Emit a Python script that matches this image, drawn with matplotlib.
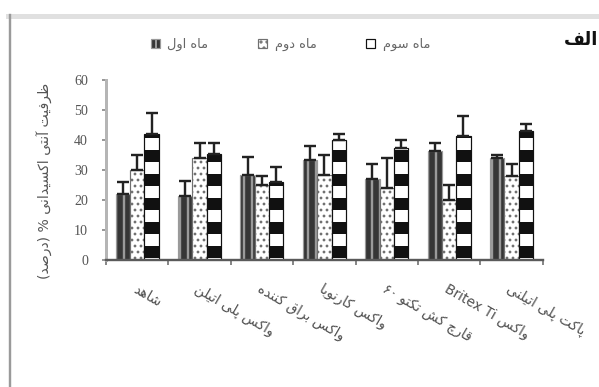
import re

import matplotlib

matplotlib.use("Agg")
import matplotlib.pyplot as plt
import numpy as np
from matplotlib.lines import Line2D

# ---- data ------------------------------------------------------------------
treatments = [
    "شاهد",
    "واکس پلی اتیلن",
    "واکس براق کننده",
    "واکس کارنوبا",
    "قارچ کش تکتو ۶۰",
    "واکس Britex Ti",
    "پاکت پلی اتیلنی",
]
series_names = ["ماه اول", "ماه دوم", "ماه سوم"]

month1 = [22, 21.5, 28.5, 33.5, 27, 36.5, 34]
month1_err = [4, 5, 6, 4.5, 5, 2.5, 1]
month2 = [30, 34, 25, 28.5, 24, 20, 28]
month2_err = [5, 5, 3, 6.5, 10, 5, 4]
month3 = [42, 35.5, 26, 40, 37.5, 41.5, 43]
month3_err = [7, 3.5, 5, 2, 2.5, 6.5, 2.5]

y_label = "ظرفیت آنتی اکسیدانی % (درصد)"
y_ticks = [0, 10, 20, 30, 40, 50, 60]
panel_tag = "الف"

# ---- minimal Persian shaping (matplotlib has no bidi / joining) -----------
# letter -> (first presentation form, number of forms); forms run iso, fin, ini, med
_FORMS = {
    "ا": (0xFE8D, 2), "آ": (0xFE81, 2), "ب": (0xFE8F, 4), "پ": (0xFB56, 4),
    "ت": (0xFE95, 4), "ج": (0xFE9D, 4), "چ": (0xFB7A, 4), "ح": (0xFEA1, 4),
    "خ": (0xFEA5, 4), "د": (0xFEA9, 2), "ذ": (0xFEAB, 2), "ر": (0xFEAD, 2),
    "ز": (0xFEAF, 2), "ژ": (0xFB8A, 2), "س": (0xFEB1, 4), "ش": (0xFEB5, 4),
    "ص": (0xFEB9, 4), "ض": (0xFEBD, 4), "ط": (0xFEC1, 4), "ظ": (0xFEC5, 4),
    "ع": (0xFEC9, 4), "غ": (0xFECD, 4), "ف": (0xFED1, 4), "ق": (0xFED5, 4),
    "ک": (0xFB8E, 4), "گ": (0xFB92, 4), "ل": (0xFEDD, 4), "م": (0xFEE1, 4),
    "ن": (0xFEE5, 4), "و": (0xFEED, 2), "ه": (0xFEE9, 4), "ی": (0xFBFC, 4),
}


def fa(text: str) -> str:
    out = []
    for i, ch in enumerate(text):
        if ch not in _FORMS:
            out.append(ch)
            continue
        base, n = _FORMS[ch]
        prev = text[i - 1] if i > 0 else ""
        nxt = text[i + 1] if i + 1 < len(text) else ""
        join_prev = prev in _FORMS and _FORMS[prev][1] == 4
        join_next = n == 4 and nxt in _FORMS
        if join_prev and join_next:
            out.append(chr(base + 3))
        elif join_prev:
            out.append(chr(base + 1))
        elif join_next:
            out.append(chr(base + 2))
        else:
            out.append(chr(base))
    vis = "".join(out)[::-1]
    ltr = r"[A-Za-z0-9\u06F0-\u06F9]+(?: [A-Za-z0-9\u06F0-\u06F9]+)*"
    vis = re.sub(ltr, lambda m: m.group(0)[::-1], vis)
    return vis.translate(str.maketrans("()", ")("))


# ---- figure ----------------------------------------------------------------
DPI = 144
fig = plt.figure(figsize=(599 / DPI, 387 / DPI), dpi=DPI)
ax = fig.add_axes([0.177, 0.328, 0.729, 0.465])

x = np.arange(len(treatments))
width = 0.23
styles = [
    dict(facecolor="#363636", edgecolor="#9a9a9a", hatch="|||", hlw=1.2),
    dict(facecolor="white", edgecolor="#707070", hatch="....", hlw=0.8),
    dict(facecolor="white", edgecolor="#111111", hatch="-", hlw=6.0),
]
values = [month1, month2, month3]
errors = [month1_err, month2_err, month3_err]

handles = []
for k, (vals, errs, st) in enumerate(zip(values, errors, styles)):
    with plt.rc_context({"hatch.linewidth": st["hlw"]}):
        bars = ax.bar(
            x + (k - 1) * width,
            vals,
            width,
            facecolor=st["facecolor"],
            edgecolor=st["edgecolor"],
            hatch=st["hatch"],
            linewidth=0.6,
            zorder=2,
        )
    for p in bars:
        if hasattr(p, "set_hatch_linewidth"):
            p.set_hatch_linewidth(st["hlw"])
    ax.errorbar(
        x + (k - 1) * width,
        vals,
        yerr=[np.zeros(len(errs)), errs],
        fmt="none",
        ecolor="#222222",
        elinewidth=1.2,
        capsize=3.2,
        capthick=1.2,
        zorder=3,
    )
    handles.append(bars)

ax.set_xlim(-0.5, len(treatments) - 0.5)
ax.set_ylim(0, 60)
ax.set_yticks(y_ticks)
ax.set_yticklabels([str(v) for v in y_ticks], family="Liberation Serif")
ax.tick_params(axis="y", length=2, width=1, color="#999999", pad=7,
               labelsize=7, labelcolor="#555555")

ax.set_xticks(x)
ax.set_xticklabels([fa(t) for t in treatments], rotation=-30, ha="left",
                   va="top", rotation_mode="anchor", fontsize=6.8,
                   color="#505050", family="DejaVu Sans")
ax.set_xticks(np.arange(-0.5, len(treatments), 1), minor=True)
ax.tick_params(axis="x", which="major", length=0, pad=11)
ax.tick_params(axis="x", which="minor", length=2.5, width=1, color="#888888")

for side in ("top", "right"):
    ax.spines[side].set_visible(False)
ax.spines["left"].set_color("#b5b5b5")
ax.spines["left"].set_linewidth(1.5)
ax.spines["bottom"].set_color("#5a5a5a")
ax.spines["bottom"].set_linewidth(1.2)

fig.legend(
    handles,
    [fa(n) for n in series_names],
    loc="center",
    bbox_to_anchor=(0.485, 0.884),
    ncol=3,
    frameon=False,
    fontsize=6.5,
    handlelength=0.7,
    handleheight=0.7,
    handletextpad=0.6,
    columnspacing=3.8,
    labelcolor="#666666",
)

fig.text(0.075, 0.532, fa(y_label), rotation=90, ha="center", va="center",
         fontsize=7, color="#555555")
fig.text(0.998, 0.897, fa(panel_tag), ha="right", va="center", fontsize=9,
         fontweight="bold", color="#111111")

# frame lines of the original panel
fig.add_artist(Line2D([8 / 599, 1], [1 - 15.5 / 387] * 2,
                      transform=fig.transFigure, color="#e0e0e0", lw=2.5))
fig.add_artist(Line2D([9.5 / 599] * 2, [0, 1 - 15 / 387],
                      transform=fig.transFigure, color="#9a9a9a", lw=1.2))

fig.savefig("out.png", dpi=DPI)
